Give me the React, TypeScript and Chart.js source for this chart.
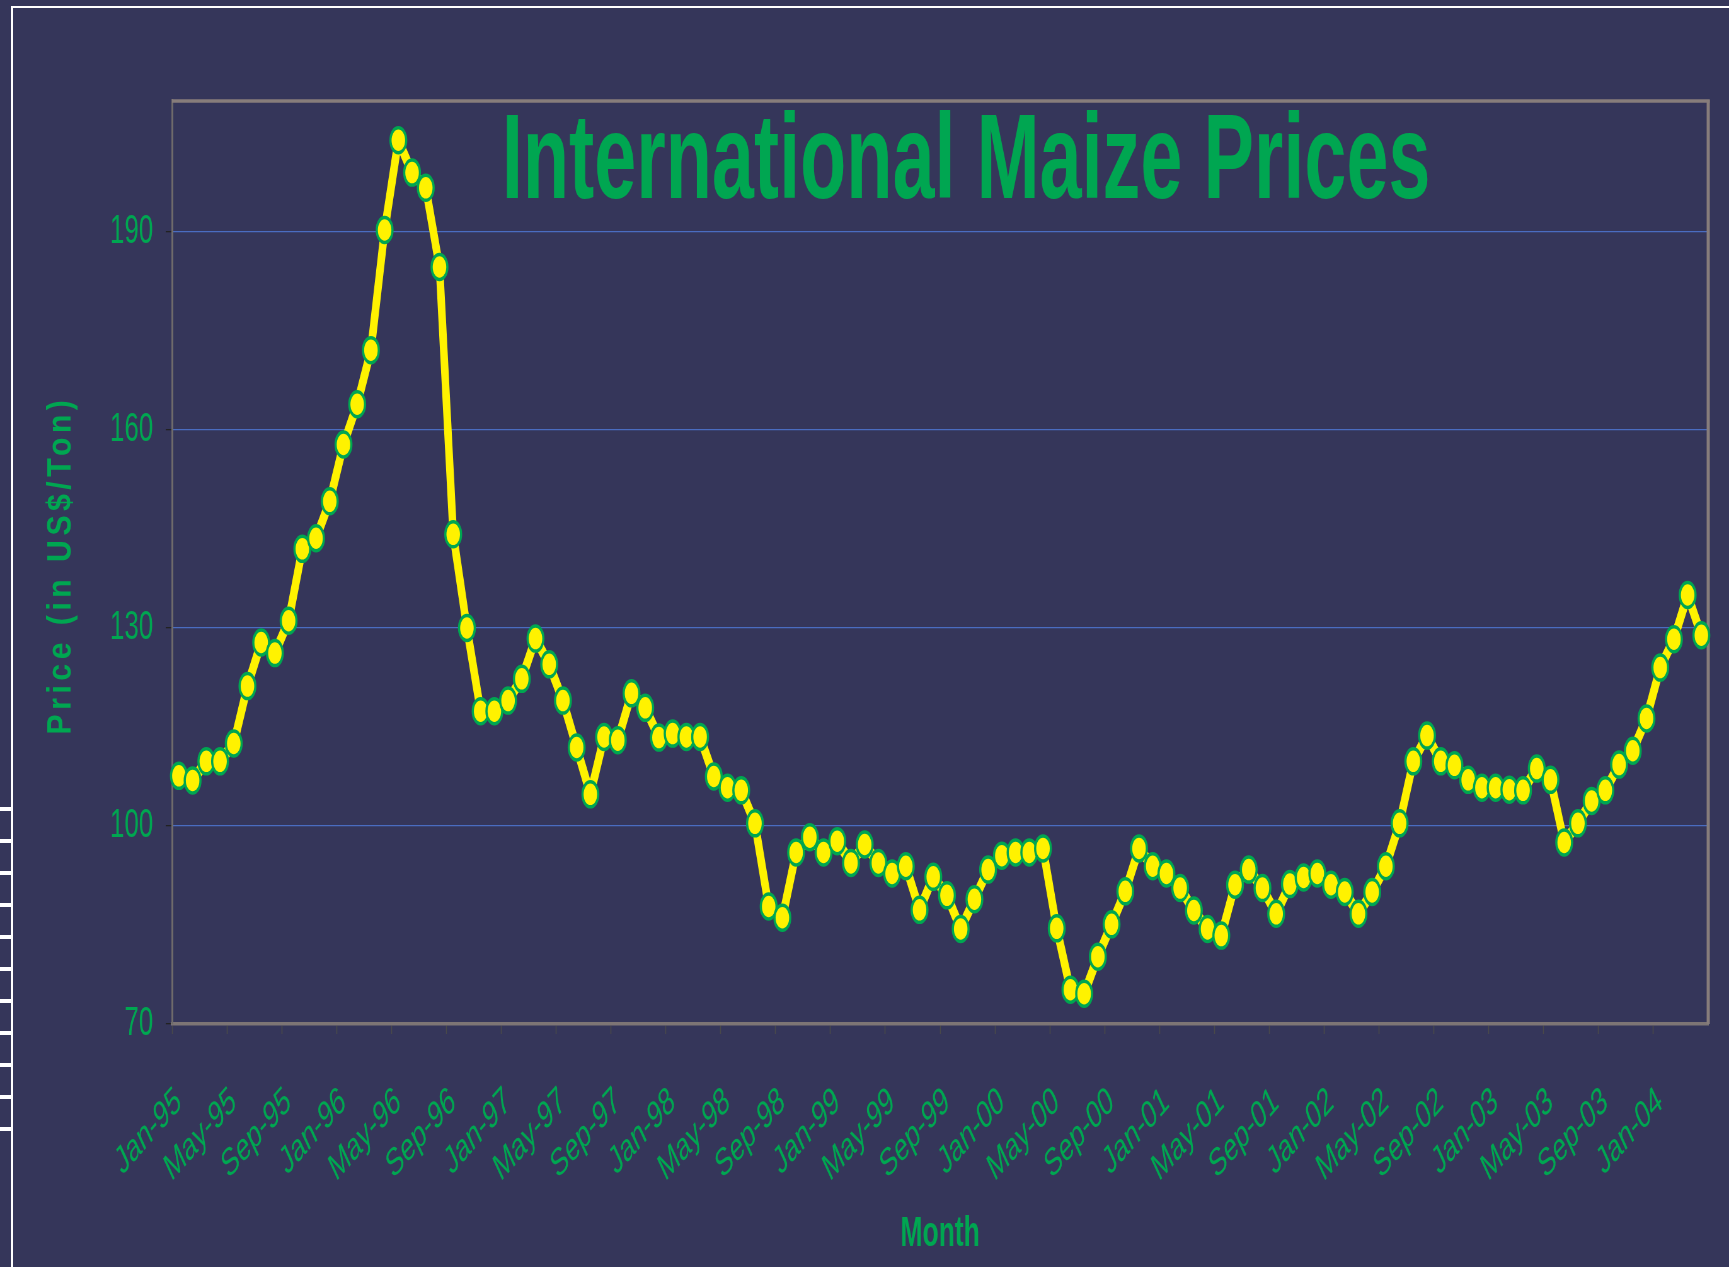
import { useEffect, useRef } from 'react';
import { Chart, registerables } from 'chart.js';

Chart.register(...registerables);

// ---------- data ----------
const MONTHS = ['Jan', 'Feb', 'Mar', 'Apr', 'May', 'Jun', 'Jul', 'Aug', 'Sep', 'Oct', 'Nov', 'Dec'];
const YEARS = ['95', '96', '97', '98', '99', '00', '01', '02', '03', '04'];
const N_MONTHS = 112; // Jan-95 .. Apr-04
const CATEGORIES: string[] = [];
for (const y of YEARS) for (const m of MONTHS) if (CATEGORIES.length < N_MONTHS) CATEGORIES.push(`${m}-${y}`);

const PRICES = [
  107.6, 106.9, 109.8, 109.8, 112.5, 121.2, 127.8, 126.2, 131.1, 142.0, 143.6, 149.2,
  157.8, 163.9, 172.1, 190.3, 203.9, 199.0, 196.7, 184.7, 144.2, 130.0, 117.4, 117.4,
  119.0, 122.3, 128.4, 124.5, 119.0, 111.9, 104.8, 113.5, 113.0, 120.1, 117.9, 113.4,
  114.0, 113.5, 113.5, 107.5, 105.8, 105.4, 100.4, 87.8, 86.1, 96.0, 98.3, 96.0,
  97.7, 94.4, 97.2, 94.4, 92.8, 93.9, 87.3, 92.3, 89.5, 84.4, 88.9, 93.4,
  95.5, 96.0, 96.0, 96.6, 84.5, 75.2, 74.6, 80.2, 85.1, 90.1, 96.6, 93.9,
  92.8, 90.6, 87.2, 84.4, 83.4, 91.1, 93.4, 90.6, 86.7, 91.2, 92.2, 92.8,
  91.1, 90.0, 86.7, 90.0, 93.9, 100.4, 109.8, 113.7, 109.8, 109.2, 107.0, 105.8,
  105.8, 105.5, 105.4, 108.7, 107.0, 97.5, 100.4, 103.8, 105.4, 109.3, 111.4, 116.3,
  124.0, 128.3, 135.0, 128.9,
];

const Y_TICKS = [70, 100, 130, 160, 190];
const Y_MIN = 70;
const Y_MAX = 210;
const LABEL_EVERY = 4;

const TITLE = 'International Maize Prices';
const X_TITLE = 'Month';
const Y_TITLE = 'Price (in US$/Ton)';

// ---------- styling ----------
const S = 0.63; // horizontal condensation of the whole picture
const OUT_W = 1729;
const OUT_H = 1267;
const W = Math.round(OUT_W / S);
const H = OUT_H;
const BG = '#35365A';
const GREEN = '#00A651';
const YELLOW = '#FFF200';
const FONT = '"Liberation Sans", Arial, Helvetica, sans-serif';

const AREA_LEFT = Math.round(172 / S);
const AREA_RIGHT = Math.round(1708 / S);
const AREA_TOP = 100;
const AREA_BOTTOM = 1024;

const framePlugin = {
  id: 'plotFrame',
  beforeDatasetsDraw(chart: any) {
    const { ctx, chartArea } = chart;
    const { left, right, top, bottom } = chartArea;
    ctx.save();
    ctx.strokeStyle = '#877d7b';
    ctx.lineWidth = 3.5;
    ctx.beginPath();
    ctx.moveTo(left, top + 1);
    ctx.lineTo(right + 2.5, top + 1);
    ctx.stroke();
    ctx.lineWidth = 5;
    ctx.beginPath();
    ctx.moveTo(right, top);
    ctx.lineTo(right, bottom);
    ctx.stroke();
    ctx.restore();
  },
};

const titlePlugin = {
  id: 'mainTitle',
  afterDatasetsDraw(chart: any) {
    const { ctx, chartArea } = chart;
    ctx.save();
    ctx.font = `bold 120px ${FONT}`;
    ctx.fillStyle = GREEN;
    ctx.textAlign = 'center';
    ctx.textBaseline = 'alphabetic';
    ctx.fillText(TITLE, 966 / S, 198);
    ctx.restore();

    // vertical axis title
    ctx.save();
    ctx.translate(61 / S, (chartArea.top + chartArea.bottom) / 2 + 3);
    ctx.rotate(-Math.PI / 2);
    ctx.scale(0.56, 1);
    ctx.font = `bold 54px ${FONT}`;
    (ctx as any).letterSpacing = '8px';
    ctx.fillStyle = GREEN;
    ctx.textAlign = 'center';
    ctx.textBaseline = 'middle';
    ctx.fillText(Y_TITLE, 0, 0);
    ctx.restore();
  },
};

export default function App() {
  const ref = useRef<HTMLCanvasElement>(null);

  useEffect(() => {
    const canvas = ref.current;
    if (!canvas) return;
    const chart = new Chart(canvas, {
      type: 'line',
      data: {
        labels: CATEGORIES,
        datasets: [
          {
            data: PRICES,
            borderColor: YELLOW,
            backgroundColor: YELLOW,
            borderWidth: 12,
            borderJoinStyle: 'round',
            pointBackgroundColor: YELLOW,
            pointBorderColor: GREEN,
            pointBorderWidth: 3.5,
            pointRadius: 12.5,
            pointHoverRadius: 12.5,
            tension: 0,
            fill: false,
            clip: false as any,
          },
        ],
      },
      options: {
        responsive: false,
        animation: false,
        devicePixelRatio: 1,
        events: [],
        layout: { padding: { left: 0, top: AREA_TOP, right: W - AREA_RIGHT, bottom: 0 } },
        plugins: {
          legend: { display: false },
          tooltip: { enabled: false },
          title: { display: false },
        },
        scales: {
          x: {
            type: 'category',
            offset: true,
            grid: {
              display: true,
              offset: true,
              drawOnChartArea: false,
              drawTicks: true,
              tickLength: 10,
              tickWidth: 1.6,
              tickColor: (c: any) => (c.index % LABEL_EVERY === 0 ? '#4a4a4a' : 'rgba(0,0,0,0)'),
            },
            border: { display: true, color: '#7d7575', width: 3.5 },
            ticks: {
              autoSkip: false,
              maxRotation: 36,
              minRotation: 36,
              padding: 44,
              color: GREEN,
              font: { family: FONT, size: 39 },
              callback: function (this: any, value: any, index: number) {
                return index % LABEL_EVERY === 0 ? this.getLabelForValue(value) : '';
              },
            },
            title: {
              display: true,
              text: X_TITLE,
              color: GREEN,
              font: { family: FONT, size: 42, weight: 'bold' },
              padding: { top: 0, bottom: 7 },
            },
            afterFit: (scale: any) => {
              scale.height = H - AREA_BOTTOM;
              scale.paddingLeft = 0;
              scale.paddingRight = 0;
            },
          },
          y: {
            type: 'linear',
            min: Y_MIN,
            max: Y_MAX,
            afterBuildTicks: (scale: any) => {
              scale.ticks = Y_TICKS.map((v) => ({ value: v }));
            },
            ticks: {
              color: GREEN,
              font: { family: FONT, size: 41 },
              padding: 20,
            },
            grid: {
              color: (c: any) => (c.tick && c.tick.value === Y_MIN ? 'rgba(0,0,0,0)' : '#4a6cc0'),
              lineWidth: 1.3,
              drawTicks: true,
              tickLength: 10,
              tickColor: '#222',
            },
            border: { display: true, color: '#6f6b6b', width: 3 },
            title: { display: false, text: Y_TITLE },
            afterFit: (scale: any) => {
              scale.width = AREA_LEFT;
              scale.paddingTop = 0;
              scale.paddingBottom = 0;
            },
          },
        },
      } as any,
      plugins: [framePlugin, titlePlugin],
    });
    return () => chart.destroy();
  }, []);

  const filmMarks = Array.from({ length: 11 }, (_, k) => 807 + 32 * k);

  return (
    <div
      style={{
        position: 'absolute',
        left: 0,
        top: 0,
        width: OUT_W,
        height: OUT_H,
        background: BG,
        overflow: 'hidden',
      }}
    >
      <canvas
        ref={ref}
        width={W}
        height={H}
        aria-label={`${TITLE} — ${Y_TITLE} by ${X_TITLE}`}
        style={{ position: 'absolute', left: 0, top: 0, width: `${OUT_W}px`, height: `${OUT_H}px`, display: 'block' }}
      />
      <div style={{ position: 'absolute', left: 11, top: 6, width: 2, height: OUT_H - 6, background: '#fff' }} />
      <div style={{ position: 'absolute', left: 11, top: 6, width: OUT_W - 11, height: 2, background: '#fff' }} />
      {filmMarks.map((y) => (
        <div key={y} style={{ position: 'absolute', left: 0, top: y, width: 11, height: 4, background: '#fff' }} />
      ))}
    </div>
  );
}
